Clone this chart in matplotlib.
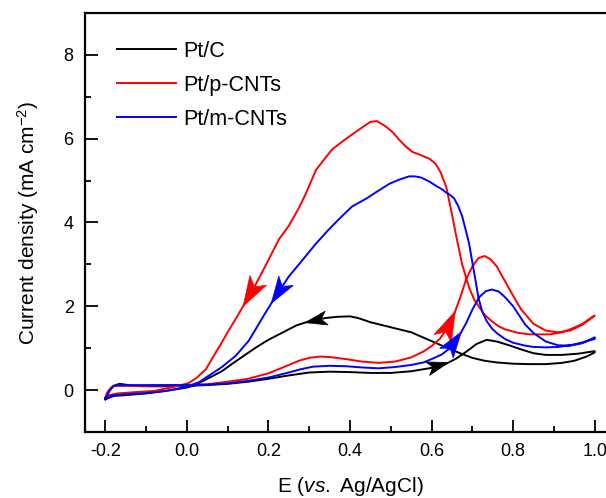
import numpy as np
import matplotlib
matplotlib.use('Agg')
import matplotlib.pyplot as plt
from matplotlib.patches import Polygon
from matplotlib.ticker import MultipleLocator

plt.rcParams['font.family'] = ['Liberation Sans', 'DejaVu Sans']
plt.rcParams['mathtext.fontset'] = 'custom'
plt.rcParams['mathtext.rm'] = 'Liberation Sans'
plt.rcParams['mathtext.it'] = 'Liberation Sans:italic'

# Pt/C  (forward scan, then backward scan)
ptc_fx = [-0.2, -0.19, -0.18, -0.165, -0.15, -0.13, -0.1, -0.05, 0.0, 0.05, 0.1, 0.15, 0.2, 0.25,
          0.3, 0.35, 0.4, 0.45, 0.5, 0.55, 0.6, 0.63, 0.66, 0.69, 0.71, 0.735, 0.76, 0.79, 0.82,
          0.85, 0.88, 0.92, 0.96, 1.0]
ptc_fy = [-0.22, -0.02, 0.1, 0.15, 0.13, 0.1, 0.09, 0.09, 0.1, 0.12, 0.15, 0.2, 0.27, 0.35,
          0.42, 0.44, 0.43, 0.41, 0.41, 0.45, 0.53, 0.6, 0.75, 0.95, 1.1, 1.2, 1.16, 1.07, 0.97,
          0.88, 0.84, 0.84, 0.87, 0.93]
ptc_bx = [1.0, 0.98, 0.95, 0.92, 0.88, 0.84, 0.8, 0.76, 0.73, 0.7, 0.67, 0.64, 0.6, 0.55, 0.5,
          0.45, 0.42, 0.4, 0.37, 0.34, 0.3, 0.27, 0.24, 0.2, 0.17, 0.14, 0.11, 0.086, 0.05, 0.02,
          0.0, -0.04, -0.1, -0.15, -0.18, -0.2]
ptc_by = [0.9, 0.8, 0.7, 0.65, 0.62, 0.62, 0.63, 0.66, 0.7, 0.77, 0.88, 1.0, 1.17, 1.38, 1.5,
          1.62, 1.72, 1.76, 1.75, 1.72, 1.64, 1.55, 1.4, 1.2, 1.02, 0.82, 0.62, 0.45, 0.27, 0.12,
          0.06, 0.0, -0.08, -0.12, -0.14, -0.22]

# Pt/p-CNTs
pcnt_fx = [-0.2, -0.195, -0.185, -0.175, -0.1, 0.0, 0.05, 0.1, 0.15, 0.2, 0.25, 0.275, 0.3,
           0.325, 0.35, 0.39, 0.43, 0.47, 0.51, 0.55, 0.58, 0.6, 0.62, 0.64, 0.655, 0.67, 0.685,
           0.7, 0.715, 0.73, 0.745, 0.76, 0.78, 0.8, 0.82, 0.85, 0.88, 0.91, 0.94, 0.97, 1.0]
pcnt_fy = [-0.18, -0.05, 0.07, 0.1, 0.1, 0.12, 0.14, 0.2, 0.27, 0.4, 0.6, 0.7, 0.77,
           0.8, 0.79, 0.74, 0.68, 0.65, 0.68, 0.78, 0.92, 1.05, 1.22, 1.5, 1.8, 2.2, 2.65,
           2.95, 3.15, 3.2, 3.12, 2.95, 2.6, 2.25, 1.92, 1.58, 1.42, 1.38, 1.42, 1.56, 1.78]
pcnt_bx = [1.0, 0.97, 0.945, 0.92, 0.89, 0.84, 0.81, 0.78, 0.765, 0.748, 0.73, 0.717, 0.705,
           0.692, 0.675, 0.66, 0.65, 0.636, 0.622, 0.61, 0.595, 0.575, 0.552, 0.535, 0.52, 0.505,
           0.488, 0.466, 0.45, 0.439, 0.398, 0.377, 0.356, 0.317, 0.29, 0.275, 0.25, 0.226, 0.205,
           0.184, 0.165, 0.152, 0.135, 0.12, 0.1, 0.086, 0.065, 0.047, 0.025, 0.005, -0.03, -0.08,
           -0.13, -0.17, -0.19, -0.2]
pcnt_by = [1.78, 1.58, 1.47, 1.38, 1.33, 1.33, 1.37, 1.45, 1.52, 1.64, 1.8, 1.98, 2.15,
           2.45, 3.0, 3.7, 4.2, 4.85, 5.2, 5.4, 5.52, 5.6, 5.69, 5.83, 5.98, 6.15,
           6.29, 6.42, 6.4, 6.33, 6.05, 5.9, 5.74, 5.26, 4.65, 4.35, 3.92, 3.6, 3.2,
           2.8, 2.45, 2.24, 1.95, 1.7, 1.38, 1.14, 0.8, 0.5, 0.3, 0.17, 0.08, -0.02,
           -0.05, -0.08, -0.12, -0.18]

# Pt/m-CNTs
mcnt_fx = [-0.2, -0.19, -0.18, -0.17, -0.1, 0.0, 0.05, 0.1, 0.15, 0.2, 0.25, 0.28, 0.31, 0.35,
           0.39, 0.43, 0.47, 0.51, 0.55, 0.58, 0.6, 0.625, 0.645, 0.665, 0.685, 0.7, 0.717,
           0.733, 0.748, 0.765, 0.78, 0.8, 0.815, 0.83, 0.85, 0.88, 0.91, 0.94, 0.97, 1.0]
mcnt_fy = [-0.2, -0.02, 0.1, 0.12, 0.12, 0.12, 0.13, 0.16, 0.22, 0.3, 0.42, 0.5, 0.56, 0.58,
           0.57, 0.54, 0.52, 0.55, 0.6, 0.66, 0.74, 0.85, 1.0, 1.25, 1.6, 1.92, 2.22,
           2.36, 2.4, 2.35, 2.22, 2.0, 1.78, 1.56, 1.36, 1.16, 1.07, 1.06, 1.12, 1.26]
mcnt_bx = [1.0, 0.97, 0.945, 0.91, 0.88, 0.85, 0.83, 0.8, 0.78, 0.76, 0.748, 0.735, 0.724, 0.715,
           0.709, 0.7, 0.692, 0.683, 0.675, 0.665, 0.655, 0.645, 0.635, 0.626, 0.61, 0.594, 0.575,
           0.56, 0.545, 0.52, 0.496, 0.47, 0.44, 0.405, 0.373, 0.345, 0.317, 0.285, 0.25, 0.218,
           0.19, 0.152, 0.12, 0.086, 0.05, 0.03, 0.0, -0.05, -0.1, -0.15, -0.18, -0.2]
mcnt_by = [1.22, 1.14, 1.08, 1.03, 1.02, 1.03, 1.06, 1.13, 1.22, 1.36, 1.47, 1.65, 1.88, 2.2,
           2.55, 3.05, 3.5, 3.85, 4.15, 4.4, 4.58, 4.66, 4.72, 4.79, 4.88, 4.98, 5.07,
           5.1, 5.1, 5.02, 4.92, 4.76, 4.57, 4.38, 4.08, 3.8, 3.5, 3.12, 2.71, 2.24,
           1.8, 1.18, 0.82, 0.55, 0.32, 0.19, 0.08, -0.02, -0.07, -0.1, -0.12, -0.2]

# scan direction arrows: colour, tip, point behind the tip, head length (px)
arrows = [
    ('black', (0.642, 0.66), (0.59, 0.51), 22),
    ('black', (0.29, 1.61), (0.348, 1.73), 22),
    ('#ff0000', (0.658, 1.88), (0.64, 1.5), 30),
    ('#0000ff', (0.673, 1.39), (0.645, 1.0), 26),
    ('#ff0000', (0.138, 2.0), (0.165, 2.45), 30),
    ('#0000ff', (0.207, 2.07), (0.25, 2.71), 27),
]

fig = plt.figure(figsize=(6.06, 4.98), dpi=100)
ax = fig.add_axes([0.140, 0.1325, 0.875, 0.8415])

lw = 1.4
ax.plot(ptc_fx + ptc_bx, ptc_fy + ptc_by, color='black', lw=lw, label='Pt/C')
ax.plot(pcnt_fx + pcnt_bx, pcnt_fy + pcnt_by, color='#ff0000', lw=lw, label='Pt/p-CNTs')
ax.plot(mcnt_fx + mcnt_bx, mcnt_fy + mcnt_by, color='#0000ff', lw=lw, label='Pt/m-CNTs')

ax.set_xlim(-0.25, 1.05)
ax.set_ylim(-1, 9)

# barbed arrowheads, shape built in pixel space then mapped back to data
head = np.array([[0, 0], [-1, 0.32], [-0.75, 0], [-1, -0.32]])
to_data = ax.transData.inverted()
for c, tip, tail, size in arrows:
    p1 = ax.transData.transform(tail)
    p2 = ax.transData.transform(tip)
    u = (p2 - p1) / np.hypot(*(p2 - p1))
    n = np.array([-u[1], u[0]])
    pix = p2 + size * (head[:, :1] * u + head[:, 1:] * n)
    ax.add_patch(Polygon(to_data.transform(pix), closed=True, facecolor=c, edgecolor=c,
                         lw=0.5, zorder=3))

ax.set_xticks([-0.2, 0.0, 0.2, 0.4, 0.6, 0.8, 1.0])
ax.set_xticklabels(['-0.2', '0.0', '0.2', '0.4', '0.6', '0.8', '1.0'])
ax.xaxis.set_minor_locator(MultipleLocator(0.1))
ax.yaxis.set_major_locator(MultipleLocator(2))
ax.yaxis.set_minor_locator(MultipleLocator(1))
ax.tick_params(which='both', direction='in', width=1.3, labelsize=13, top=False, right=False)
ax.tick_params(which='major', length=9)
ax.tick_params(which='minor', length=4.5)
ax.tick_params(axis='x', pad=8)
ax.tick_params(axis='y', pad=8)
for s in ax.spines.values():
    s.set_linewidth(1.6)

ax.set_xlabel(r'E ($\mathit{vs.}$ Ag/AgCl)', fontsize=15, labelpad=11)
ax.set_ylabel(r'Current density (mA cm$^{-2}$)', fontsize=15, labelpad=16)

ax.legend(loc='upper left', bbox_to_anchor=(0.025, 0.98), frameon=False, fontsize=15.5,
          handlelength=2.7, handletextpad=0.35, labelspacing=0.6)

fig.savefig('out.png', dpi=100)
